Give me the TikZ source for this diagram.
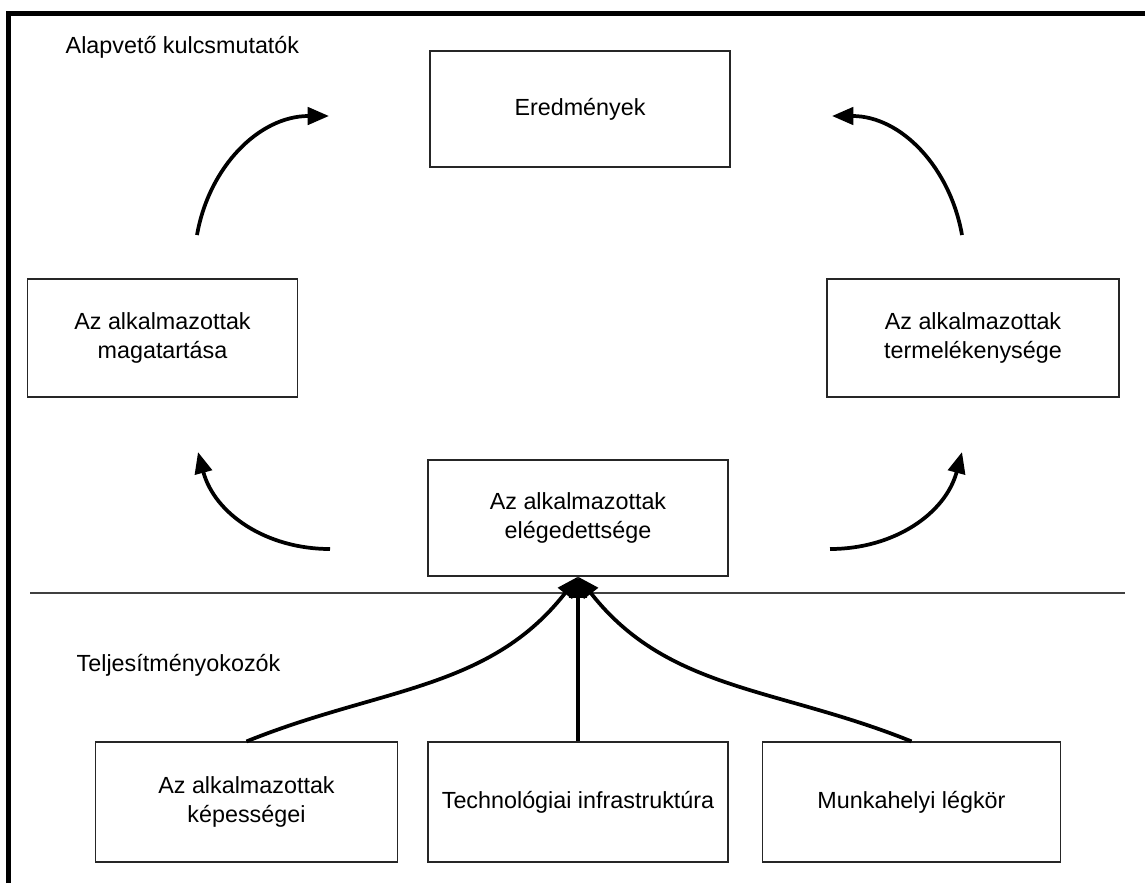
\documentclass[tikz,border=0pt]{standalone}
\usepackage{fontspec}
\setmainfont{Liberation Sans}
\usetikzlibrary{arrows.meta}

\begin{document}
\begin{tikzpicture}[x=0.75pt, y=-0.75pt,
    every node/.style={font=\fontsize{17.5}{22}\selectfont, align=center},
    box/.style={draw=black!85, line width=0.9pt, inner sep=0pt, minimum width=225pt, minimum height=87pt},
    flow/.style={line width=2.8pt, -{Triangle[length=16pt, width=13pt]}}]
    \useasboundingbox (0,0) rectangle (1145,883);
    % frame and divider
    \draw[line width=3.75pt] (8.5,883) -- (8.5,13.5) -- (1145,13.5);
    \draw[line width=1.3pt, black!75] (30,593) -- (1125,593);
    \node[anchor=west] (kulcs) at (61,47) {Alapvető kulcsmutatók};
    \node[anchor=west] (okozo) at (72,665) {Teljesítményokozók};
    % upper part
    \node[box] (ered) at (580,109) {Eredmények};
    \node[box, minimum width=203pt, minimum height=88.5pt] (magat) at (162.5,338) {Az alkalmazottak\\magatartása};
    \node[box, minimum width=219pt, minimum height=88.5pt] (termel) at (973,338) {Az alkalmazottak\\termelékenysége};
    \node[box] (elege) at (578,518) {Az alkalmazottak\\elégedettsége};
    % lower part
    \node[box, minimum width=227pt, minimum height=90pt] (kepes) at (246.5,802) {Az alkalmazottak\\képességei};
    \node[box, minimum height=90pt] (techn) at (578,802) {Technológiai infrastruktúra};
    \node[box, minimum width=224pt, minimum height=90pt] (legkor) at (911.5,802) {Munkahelyi légkör};
    \coordinate (tl1) at (197,235); \coordinate (tl2) at (329,116);
    \coordinate (tr1) at (962,235); \coordinate (tr2) at (832,116);
    \coordinate (bl1) at (330,549); \coordinate (bl2) at (198,452);
    \coordinate (br1) at (830,549); \coordinate (br2) at (962,452);
    \draw[flow] (tl1) to[out=80, in=180] (tl2);
    \draw[flow] (tr1) to[out=100, in=0] (tr2);
    \draw[flow] (bl1) to[out=180, in=-75] (bl2);
    \draw[flow] (br1) to[out=0, in=-105] (br2);
    \draw[flow] (kepes.north) to[out=22, in=-128] (elege.south);
    \draw[flow] (techn.north) -- (elege.south);
    \draw[flow] (legkor.north) to[out=158, in=-52] (elege.south);
\end{tikzpicture}
\end{document}
